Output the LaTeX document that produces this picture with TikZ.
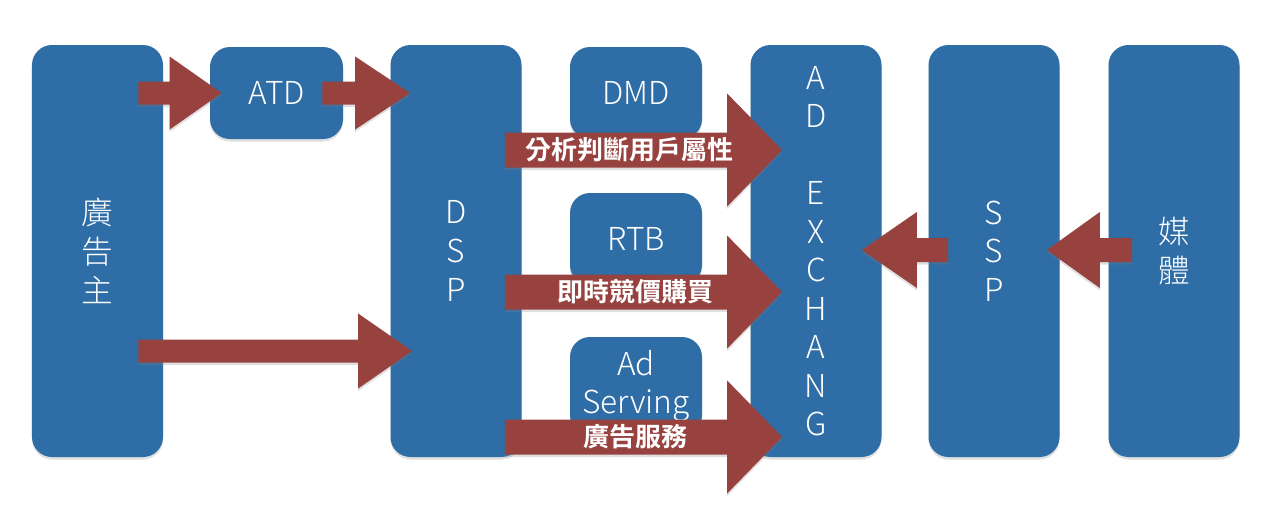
\documentclass[tikz,border=0pt]{standalone}
\usepackage{fontspec}
\setmainfont{Noto Sans CJK TC}[UprightFont=* Light, BoldFont=* Bold]
\usetikzlibrary{calc,shadows}

\definecolor{boxblue}{RGB}{46,109,165}
\definecolor{arrowred}{RGB}{152,66,64}

\tikzset{
  softshadow/.style={drop shadow={shadow xshift=0pt, shadow yshift=-0.5mm, opacity=0.25}},
  tallbox/.style={fill=boxblue, rounded corners=4mm, minimum width=26.2mm, minimum height=82.4mm,
    inner sep=0pt, text=white, align=center, softshadow,
    font=\fontsize{18pt}{22pt}\selectfont},
  smallbox/.style={fill=boxblue, rounded corners=4mm, minimum width=26.4mm, minimum height=18.4mm,
    inner sep=0pt, text=white, align=center, softshadow,
    font=\fontsize{18pt}{21.6pt}\selectfont},
  arrowlabel/.style={text=white, inner sep=0pt, font=\fontsize{14.8pt}{16pt}\selectfont\bfseries}
}

% fat arrow: start, tip, shaft half width, head half width, head length
\newcommand\fatarrow[5]{%
  \fill[arrowred, softshadow] ($(#1)+(0,-#3)$) -- ($(#2)+(-#5,-#3)$) -- ($(#2)+(-#5,-#4)$) -- (#2)
    -- ($(#2)+(-#5,#4)$) -- ($(#2)+(-#5,#3)$) -- ($(#1)+(0,#3)$) -- cycle;}

\begin{document}
\begin{tikzpicture}[x=0.2mm, y=-0.2mm]
  \useasboundingbox (0,0) rectangle (1280,530);

  \node[tallbox] (ads)   at (97.5,251) {廣\\告\\主};
  \node[tallbox] (dsp)   at (456,251)  {D\\S\\P};
  \node[tallbox, font=\fontsize{18pt}{21.9pt}\selectfont] (adx) at (816,251) {A\\D\\[21.9pt]E\\X\\C\\H\\A\\N\\G};
  \node[tallbox] (ssp)   at (994,251)  {S\\S\\P};
  \node[tallbox] (media) at (1174,251) {媒\\體};

  \node[smallbox, minimum width=26.6mm] (atd) at (276.5,93) {ATD};
  \node[smallbox] (dmd) at (636,93)  {DMD};
  \node[smallbox] (rtb) at (636,239) {RTB};
  \node[smallbox, minimum height=19.6mm] (serv) at (636,386) {Ad\\Serving};

  % small arrows
  \coordinate (a1s) at ([xshift=-5mm]ads.east |- atd.west);
  \coordinate (a1e) at ([xshift=2.4mm]atd.west);
  \coordinate (a2s) at ([xshift=-4.2mm]atd.east);
  \coordinate (a2e) at ([xshift=4mm]dsp.west |- atd.west);
  \coordinate (a3s) at ([xshift=-5mm]ads.east |- 0,351);
  \coordinate (a3e) at ([xshift=4.4mm]dsp.west |- 0,351);
  \fatarrow{a1s}{a1e}{11.5}{36.5}{52}
  \fatarrow{a2s}{a2e}{11.5}{36.5}{55}
  \fatarrow{a3s}{a3e}{11.5}{37.5}{54}

  % big arrows into the exchange
  \foreach \n/\y in {b1/150, b2/292, b3/437} {
    \coordinate (\n s) at ([xshift=-3.4mm]dsp.east |- 0,\y);
    \coordinate (\n e) at ([xshift=6.4mm]adx.west |- 0,\y);
  }
  \fatarrow{b1s}{b1e}{17.5}{56.5}{55}
  \fatarrow{b2s}{b2e}{17.5}{56.5}{55}
  \fatarrow{b3s}{b3e}{17.5}{56.5}{55}
  \node[arrowlabel] (l1) at ($(b1s)!0.45!(b1e)$) {分析判斷用戶屬性};
  \node[arrowlabel] (l2) at ($(b2s)!0.47!(b2e)$) {即時競價購買};
  \node[arrowlabel] (l3) at ($(b3s)!0.47!(b3e)$) {廣告服務};

  % supply side
  \coordinate (c1s) at ([xshift=4mm]ssp.west |- 0,250);
  \coordinate (c1e) at ([xshift=-4mm]adx.east |- 0,250);
  \coordinate (c2s) at ([xshift=4.8mm]media.west |- 0,250);
  \coordinate (c2e) at ([xshift=-2.6mm]ssp.east |- 0,250);
  \fatarrow{c1s}{c1e}{12}{38}{-55}
  \fatarrow{c2s}{c2e}{12}{38}{-53}
\end{tikzpicture}
\end{document}
